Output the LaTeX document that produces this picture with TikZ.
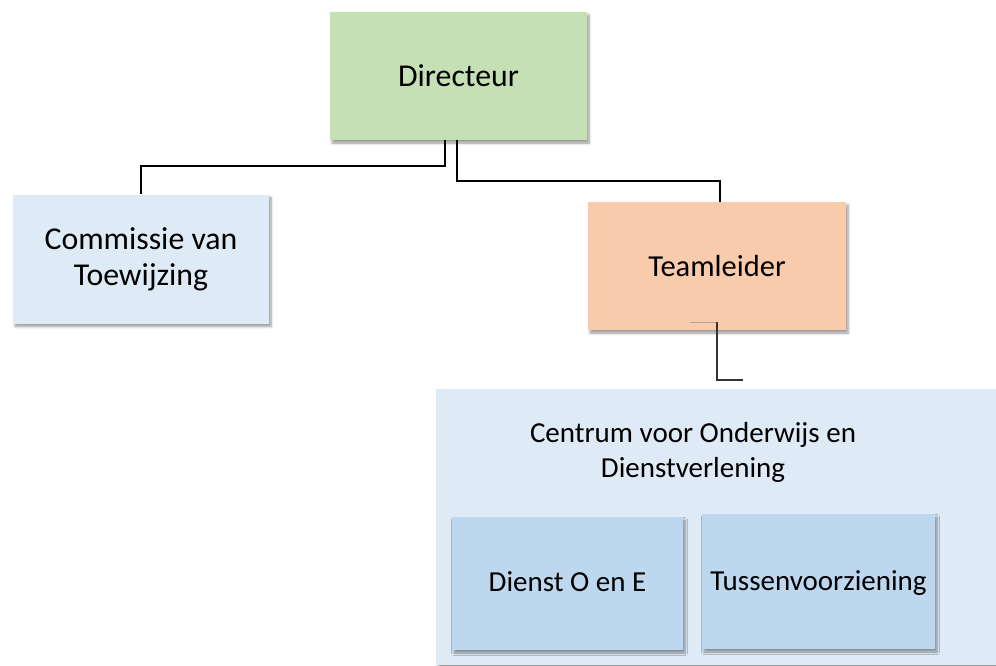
\documentclass[tikz,border=0pt]{standalone}
\usepackage{fontspec}
\setmainfont{Carlito}
\usetikzlibrary{shadows.blur,calc}
\definecolor{cgreen}{HTML}{C5E0B4}
\definecolor{clight}{HTML}{DEEBF7}
\definecolor{corange}{HTML}{F8CBAD}
\definecolor{cblue}{HTML}{BDD7EE}
\tikzset{
  box/.style={rectangle, inner sep=0pt, align=center,
    font=\fontsize{29}{35}\selectfont,
    blur shadow={shadow xshift=2pt, shadow yshift=-3pt, shadow blur steps=6, shadow blur radius=2.5pt, shadow opacity=40}},
  bigtext/.style={font=\fontsize{31.8}{36}\selectfont},
  midtext/.style={font=\fontsize{30.5}{36}\selectfont},
  subbox/.style={box, fill=cblue},
  conn/.style={line width=2pt, black},
  lbl/.style={align=center, font=\fontsize{29}{35}\selectfont, inner sep=0pt}
}
\begin{document}
\begin{tikzpicture}[x=1pt,y=-1pt]
\useasboundingbox (0,0) rectangle (996,666);
% boxes
\node[box, bigtext, fill=cgreen, minimum width=257, minimum height=128] (dir) at (458.5,76) {Directeur};
\node[box, bigtext, fill=clight, minimum width=256, minimum height=129] (com) at (141,259) {Commissie van\\Toewijzing};
\node[box, midtext, fill=corange, minimum width=258, minimum height=128] (tl) at (717,266) {Teamleider};
\node[box, fill=clight, minimum width=580, minimum height=276] (cen) at (726,527) {};
\node[lbl] (cenlbl) at (693,452) {Centrum voor Onderwijs en\\Dienstverlening};
\node[subbox, minimum width=231, minimum height=133] (dienst) at (567.5,583.5) {};
\node[subbox, minimum width=233, minimum height=135] (tussen) at (818.5,581.5) {};
\node[lbl, anchor=base] (dienstlbl) at (567.5,591) {Dienst O en E};
\node[lbl, anchor=base] (tussenlbl) at (818.5,590) {Tussenvoorziening};
% connectors
\draw[conn] ([xshift=115pt]dir.south west) -- ++(0,26) -| (com.north);
\draw[conn] ([xshift=127pt]dir.south west) -- ++(0,41) -| ([xshift=3pt]tl.north);
\draw[black!35, line width=1pt] ([xshift=-27pt,yshift=8pt]tl.south) -- ([yshift=8pt]tl.south);
\coordinate (tlend) at ($(tl.south)+(26,50)$);
\draw[black!80, line width=2pt] ([yshift=8pt]tl.south) |- (tlend);
\end{tikzpicture}
\end{document}
